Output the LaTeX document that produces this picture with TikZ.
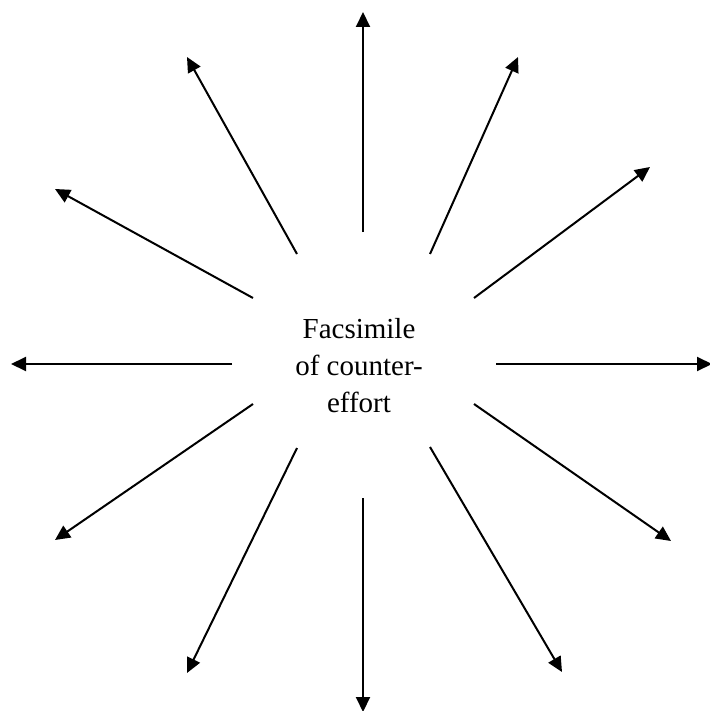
\documentclass[tikz,border=0pt]{standalone}
\usepackage{fontspec}
\setmainfont{Liberation Serif}
\usetikzlibrary{arrows.meta}
\begin{document}
\begin{tikzpicture}[x=1pt,y=-1pt,
  ray/.style={line width=2pt,-{Triangle[length=15pt,width=14pt]}},
  label/.style={align=center,font=\fontsize{29}{37}\selectfont,inner sep=0pt}]
\useasboundingbox (0,0) rectangle (709,711);
\node[label] (c) at (359,366) {Facsimile\\of counter-\\effort};
% inner starts
\coordinate (s1) at (363,232);
\coordinate (s2) at (363,498);
\coordinate (s3) at (232,364);
\coordinate (s4) at (496,364);
\coordinate (s5) at (430,254);
\coordinate (s6) at (474,298);
\coordinate (s7) at (297,254);
\coordinate (s8) at (253,298);
\coordinate (s9) at (253,404);
\coordinate (s10) at (297,448);
\coordinate (s11) at (430,447);
\coordinate (s12) at (474,404);
% tips
\coordinate (t1) at (363,12);
\coordinate (t2) at (363,712);
\coordinate (t3) at (11,364);
\coordinate (t4) at (712,364);
\coordinate (t5) at (518,57);
\coordinate (t6) at (650,167);
\coordinate (t7) at (187,57);
\coordinate (t8) at (55,189);
\coordinate (t9) at (55,540);
\coordinate (t10) at (187,673);
\coordinate (t11) at (562,672);
\coordinate (t12) at (671,541);
\foreach \i in {1,...,12} \draw[ray] (s\i) -- (t\i);
\end{tikzpicture}
\end{document}
